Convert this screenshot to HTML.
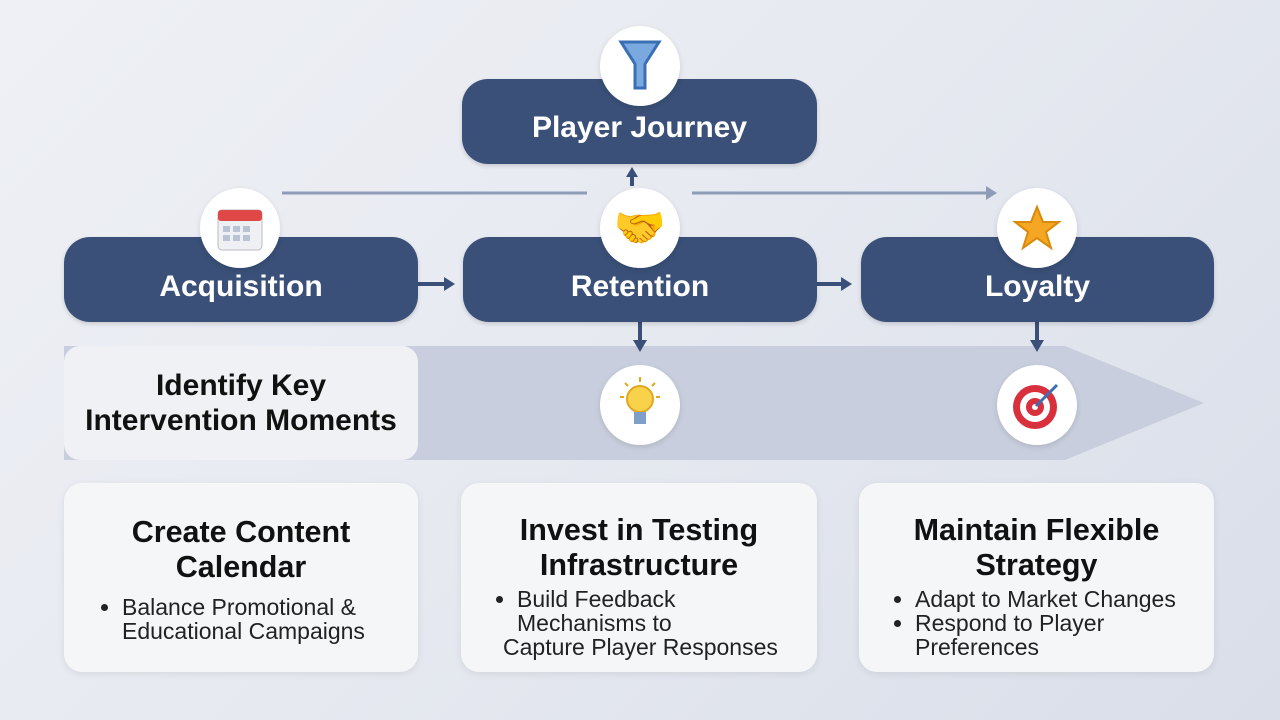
<!DOCTYPE html>
<html><head><meta charset="utf-8"><style>
body{margin:0;width:1280px;height:720px;overflow:hidden;background:linear-gradient(135deg,#eef0f5 0%,#e6e9f0 50%,#d9dee9 100%);font-family:"Liberation Sans",sans-serif;position:relative}
.b{position:absolute;background:#3a5078;border-radius:26px;color:#fff;font-weight:bold;font-size:30px;display:flex;align-items:center;justify-content:center;box-shadow:0 2px 4px rgba(0,0,0,.15);box-sizing:border-box;padding-top:14px}
.c{position:absolute;width:80px;height:80px;border-radius:50%;background:#fff;box-shadow:0 2px 6px rgba(0,0,0,.12);display:flex;align-items:center;justify-content:center}
.card{position:absolute;top:483px;height:189px;background:#f5f6f8;border-radius:18px;box-shadow:0 2px 8px rgba(0,0,0,.08);text-align:center}
.card h3{margin:32px 0 10px;font-size:30.5px;line-height:35px;color:#111}
.card ul{margin:0;padding:0 0 0 58px;text-align:left;font-size:23px;line-height:24px;color:#222;white-space:nowrap}
</style></head><body>
<svg width="1280" height="720" style="position:absolute;left:0;top:0">
<polygon points="64,346 1065,346 1204,403 1065,460 64,460" fill="#c8cedd"/>
<line x1="282" y1="193" x2="587" y2="193" stroke="#8e9cb8" stroke-width="3"/>
<line x1="692" y1="193" x2="988" y2="193" stroke="#8e9cb8" stroke-width="3"/>
<polygon points="986,186 997,193 986,200" fill="#8e9cb8"/>
<g fill="#3a5078" stroke="#3a5078" stroke-width="4">
<line x1="632" y1="186" x2="632" y2="176"/><polygon points="626,177 632,167 638,177" stroke="none"/>
<line x1="418" y1="284" x2="446" y2="284"/><polygon points="444,277 455,284 444,291" stroke="none"/>
<line x1="817" y1="284" x2="843" y2="284"/><polygon points="841,277 852,284 841,291" stroke="none"/>
<line x1="640" y1="322" x2="640" y2="342"/><polygon points="633,340 640,352 647,340" stroke="none"/>
<line x1="1037" y1="322" x2="1037" y2="342"/><polygon points="1030,340 1037,352 1044,340" stroke="none"/>
</g></svg>
<div class="b" style="left:462px;top:79px;width:355px;height:85px;padding-top:12px">Player Journey</div>
<div class="b" style="left:64px;top:237px;width:354px;height:85px">Acquisition</div>
<div class="b" style="left:463px;top:237px;width:354px;height:85px">Retention</div>
<div class="b" style="left:861px;top:237px;width:353px;height:85px">Loyalty</div>
<div class="c" style="left:600px;top:26px"><svg width="50" height="60"><polygon points="6,6 44,6 30,28 30,52 20,52 20,28" fill="#7aa9e0" stroke="#3a6fb5" stroke-width="3"/></svg></div>
<div class="c" style="left:200px;top:188px"><svg width="52" height="52"><rect x="4" y="8" width="44" height="40" rx="4" fill="#eef0f4" stroke="#bbb"/><rect x="4" y="8" width="44" height="11" rx="3" fill="#e04848"/><g fill="#b9c3d3"><rect x="9" y="24" width="7" height="6"/><rect x="19" y="24" width="7" height="6"/><rect x="29" y="24" width="7" height="6"/><rect x="9" y="33" width="7" height="6"/><rect x="19" y="33" width="7" height="6"/><rect x="29" y="33" width="7" height="6"/></g></svg></div>
<div class="c" style="left:600px;top:188px;font-size:42px">🤝</div>
<div class="c" style="left:997px;top:188px"><svg width="50" height="50"><polygon points="25,4 31,19 47,19 34,29 39,45 25,35 11,45 16,29 3,19 19,19" fill="#f5a623" stroke="#d98a0b" stroke-width="2"/></svg></div>
<div style="position:absolute;left:64px;top:346px;width:354px;height:114px;background:#eff1f4;border-radius:16px;display:flex;align-items:center;justify-content:center;text-align:center;font-weight:bold;font-size:30px;line-height:35px;color:#111;white-space:nowrap">Identify Key<br>Intervention Moments</div>
<div class="c" style="left:600px;top:365px"><svg width="50" height="60"><circle cx="25" cy="24" r="13" fill="#f8d24a" stroke="#e0a820" stroke-width="2"/><rect x="19" y="37" width="12" height="12" fill="#7ea0c8"/><g stroke="#e0a820" stroke-width="2"><line x1="25" y1="2" x2="25" y2="7"/><line x1="5" y1="22" x2="9" y2="22"/><line x1="41" y1="22" x2="45" y2="22"/><line x1="10" y1="8" x2="13" y2="11"/><line x1="40" y1="8" x2="37" y2="11"/></g></svg></div>
<div class="c" style="left:997px;top:365px"><svg width="56" height="56"><circle cx="26" cy="30" r="22" fill="#d9303e"/><circle cx="26" cy="30" r="15" fill="#fff"/><circle cx="26" cy="30" r="9" fill="#d9303e"/><circle cx="26" cy="30" r="3" fill="#fff"/><line x1="27" y1="29" x2="48" y2="8" stroke="#3a6fb5" stroke-width="3"/></svg></div>
<div class="card" style="left:64px;width:354px"><h3>Create Content<br>Calendar</h3><ul style="padding-left:58px"><li>Balance Promotional &amp;<br>Educational Campaigns</li></ul></div>
<div class="card" style="left:461px;width:356px"><h3 style="margin-top:30px;margin-bottom:4px">Invest in Testing<br>Infrastructure</h3><ul style="padding-left:56px;padding-right:0"><li>Build Feedback<br>Mechanisms to<br><span style="margin-left:-14px">Capture Player Responses</span></li></ul></div>
<div class="card" style="left:859px;width:355px"><h3 style="margin-top:30px;margin-bottom:4px">Maintain Flexible<br>Strategy</h3><ul style="padding-left:56px"><li>Adapt to Market Changes</li><li>Respond to Player<br>Preferences</li></ul></div>
</body></html>
